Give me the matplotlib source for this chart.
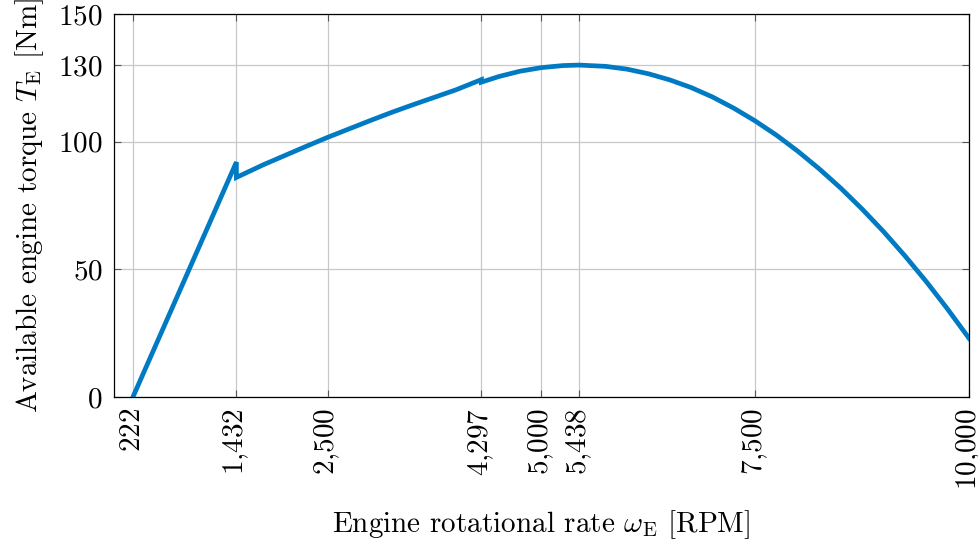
import matplotlib
matplotlib.use("Agg")
import matplotlib.pyplot as plt

# Curva de par disponible del motor (tres tramos)
rpm_arranque = [222, 1432]
par_arranque = [0, 92]

rpm_medio = [1432, 1750, 2000, 2250, 2500, 2750, 3000, 3250, 3500, 3750, 4000, 4297]
par_medio = [86, 91.0, 94.6, 98.2, 101.7, 105.0, 108.3, 111.5, 114.5, 117.4, 120.3, 124.3]

rpm_final = [4297, 4500, 4750, 5000, 5250, 5438, 5750, 6000, 6250, 6500, 6750, 7000,
             7250, 7500, 7750, 8000, 8250, 8500, 8750, 9000, 9250, 9500, 9750, 10000]
par_final = [123.3, 125.5, 127.6, 129.0, 129.8, 130.0, 129.5, 128.4, 126.6, 124.2, 121.2, 117.5,
             113.1, 108.1, 102.5, 96.2, 89.3, 81.8, 73.6, 64.8, 55.3, 45.2, 34.4, 23.0]

marcas_x = [222, 1432, 2500, 4297, 5000, 5438, 7500, 10000]
etiquetas_x = ["222", "1,432", "2,500", "4,297", "5,000", "5,438", "7,500", "10,000"]
marcas_y = [0, 50, 100, 130, 150]

plt.rcParams["font.family"] = "serif"
plt.rcParams["font.serif"] = ["cmr10"]
plt.rcParams["mathtext.fontset"] = "cm"
plt.rcParams["axes.formatter.use_mathtext"] = True

fig = plt.figure(figsize=(9.79, 5.45), dpi=100)
ax = fig.add_axes([0.1164, 0.2716, 0.8734, 0.7027])

# Un solo trazo con los saltos incluidos
rpm = rpm_arranque + rpm_medio + rpm_final
par = par_arranque + par_medio + par_final
ax.plot(rpm, par, color="#007AC3", lw=3.4, solid_joinstyle="miter", zorder=3)

ax.set_xlim(0, 10000)
ax.set_ylim(0, 150)
ax.set_xticks(marcas_x)
ax.set_xticklabels(["$" + e.replace(",", "{,}") + "$" for e in etiquetas_x],
                   rotation=90, fontsize=21)
ax.set_yticks(marcas_y)
ax.set_yticklabels(["$%d$" % v for v in marcas_y], fontsize=21)

ax.grid(True, color="#c8c8c8", lw=0.9)
ax.set_axisbelow(True)
ax.tick_params(direction="in", length=5, width=0.8, color="#555555",
               top=True, right=True, pad=8)
for lado in ax.spines.values():
    lado.set_linewidth(0.9)

ax.set_xlabel(r"Engine rotational rate $\omega_{\mathrm{E}}$ [RPM]", fontsize=21)
ax.set_ylabel(r"Available engine torque $T_{\mathrm{E}}$ [Nm]", fontsize=21)
ax.xaxis.set_label_coords(0.5, -0.29)
ax.yaxis.set_label_coords(-0.08, 0.5)

plt.savefig("out.png", dpi=100)
plt.close()
